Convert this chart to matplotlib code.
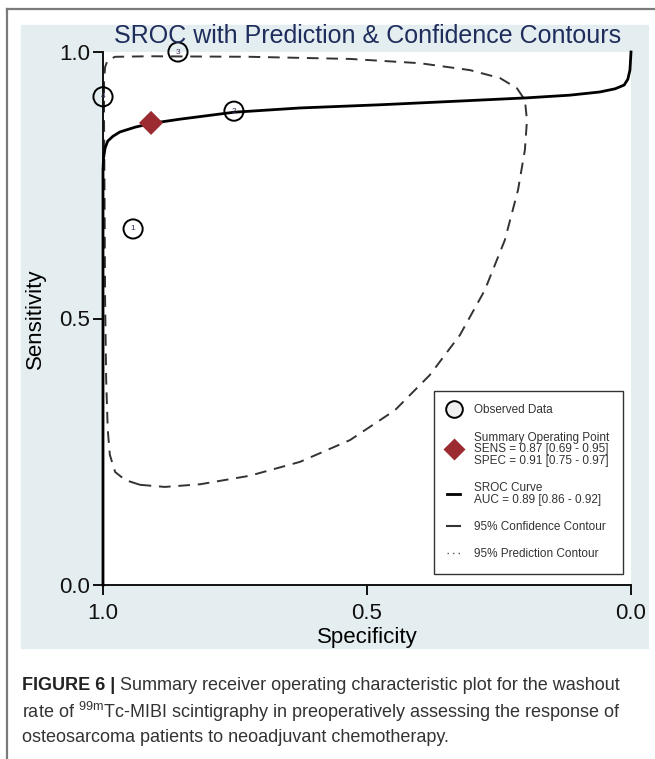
import matplotlib
matplotlib.use("Agg")
import matplotlib.pyplot as plt
from matplotlib.lines import Line2D
from matplotlib.patches import Rectangle

plt.rcParams["font.family"] = ["Liberation Sans", "DejaVu Sans"]
plt.rcParams["mathtext.fontset"] = "custom"
plt.rcParams["mathtext.rm"] = "Liberation Sans"

# observed studies
study_ids = ["1", "2", "3", "4"]
obs_spec = [0.943, 0.752, 0.858, 1.0]
obs_sens = [0.668, 0.889, 1.0, 0.916]

# summary operating point
summ_spec = [0.909]
summ_sens = [0.867]

# SROC curve
sroc_spec = [1.0, 1.0, 0.999, 0.996, 0.991, 0.981, 0.968, 0.939, 0.909, 0.854,
             0.752, 0.627, 0.475, 0.324, 0.197, 0.116, 0.059, 0.030, 0.013,
             0.006, 0.002, 0.0]
sroc_sens = [0.0, 0.779, 0.801, 0.820, 0.833, 0.842, 0.850, 0.859, 0.866, 0.874,
             0.887, 0.895, 0.901, 0.908, 0.914, 0.919, 0.925, 0.931, 0.938,
             0.949, 0.966, 1.0]

# 95% confidence contour
conf_spec = [0.930, 0.958, 0.977, 0.987, 0.991, 0.994, 0.996, 0.997, 0.998,
             0.998, 0.996, 0.991, 0.977, 0.911, 0.722, 0.532, 0.400, 0.305,
             0.248, 0.216, 0.201, 0.197, 0.201, 0.214, 0.239, 0.277, 0.324,
             0.381, 0.447, 0.532, 0.627, 0.722, 0.816, 0.883, 0.930]
conf_sens = [0.188, 0.197, 0.212, 0.244, 0.291, 0.385, 0.535, 0.722, 0.872,
             0.947, 0.972, 0.985, 0.991, 0.992, 0.991, 0.987, 0.979, 0.966,
             0.951, 0.932, 0.910, 0.872, 0.816, 0.741, 0.647, 0.553, 0.469,
             0.394, 0.328, 0.272, 0.231, 0.205, 0.189, 0.184, 0.188]

ticks = [1.0, 0.5, 0.0]
tick_labels = ["1.0", "0.5", "0.0"]

legend_labels = [
    "Observed Data",
    "Summary Operating Point\nSENS = 0.87 [0.69 - 0.95]\nSPEC = 0.91 [0.75 - 0.97]",
    "SROC Curve\nAUC = 0.89 [0.86 - 0.92]",
    "95% Confidence Contour",
    "95% Prediction Contour",
]

W, H = 655, 759
fig = plt.figure(figsize=(W / 100, H / 100), dpi=100)
fig.patch.set_facecolor("white")

# page frame and grey panel behind the graph
fig.add_artist(Line2D([7 / W, 7 / W], [0, 1 - 9 / H], transform=fig.transFigure,
                      color="#7a7a7a", lw=1.6))
fig.add_artist(Line2D([7 / W, 1], [1 - 9 / H, 1 - 9 / H], transform=fig.transFigure,
                      color="#7a7a7a", lw=1.6))
fig.add_artist(Rectangle((21 / W, 1 - 648 / H), 627 / W, 623 / H,
                         transform=fig.transFigure, color="#e4edf0", zorder=0))

ax = fig.add_axes([103 / W, 1 - 585 / H, 528 / W, 533 / H])
ax.set_facecolor("white")
ax.set_xlim(1, 0)
ax.set_ylim(0, 1)
for s in ["top", "right"]:
    ax.spines[s].set_visible(False)
for s in ["left", "bottom"]:
    ax.spines[s].set_linewidth(1.4)
    ax.spines[s].set_color("#111111")

ax.plot(conf_spec, conf_sens, color="#333333", lw=1.4, ls=(0, (6, 4)),
        clip_on=False, zorder=2)
ax.plot(sroc_spec, sroc_sens, color="black", lw=2.0, clip_on=False, zorder=3)
ax.scatter(obs_spec, obs_sens, s=190, facecolors="none", edgecolors="black",
           linewidths=1.4, clip_on=False, zorder=4)
for sid, x, y in zip(study_ids, obs_spec, obs_sens):
    ax.text(x, y, sid, ha="center", va="center", fontsize=6, color="#3b2b5b",
            zorder=5)
ax.scatter(summ_spec, summ_sens, marker="D", s=150, color="#9b2b30",
           edgecolors="none", clip_on=False, zorder=5)

ax.set_xticks(ticks, labels=tick_labels)
ax.set_yticks(ticks, labels=tick_labels)
ax.tick_params(axis="both", length=7, width=1.4, direction="out",
               labelsize=16, colors="#111111")
ax.tick_params(axis="x", pad=6)
ax.tick_params(axis="y", pad=2)
ax.set_xlabel("Specificity", fontsize=16, labelpad=2)
ax.set_ylabel("Sensitivity", fontsize=16, labelpad=10)

handles = [
    Line2D([], [], ls="none", marker="o", ms=12, mfc="#efefef", mec="black", mew=1.4),
    Line2D([], [], ls="none", marker="D", ms=11, mfc="#9b2b30", mec="none"),
    Line2D([], [], color="black", lw=2.0),
    Line2D([], [], color="#333333", lw=1.5),
    Line2D([], [], color="#555555", lw=1.0, ls=(0, (1, 3))),
]
leg = ax.legend(handles, legend_labels, loc="lower right",
                bbox_to_anchor=(0.985, 0.021), fontsize=8.5, frameon=True,
                fancybox=False, edgecolor="black", handlelength=1.1,
                handletextpad=1.2, labelspacing=1.3, borderpad=1.15,
                borderaxespad=0)
leg.get_frame().set_linewidth(1.0)
for t in leg.get_texts():
    t.set_color("#333333")
    t.set_linespacing(0.95)

fig.text(368 / W, 1 - 36 / H, "SROC with Prediction & Confidence Contours",
         ha="center", va="center", fontsize=18, color="#1f2d5c")

# caption
cap_size = 13
fig.canvas.draw()
r = fig.canvas.get_renderer()
t1 = fig.text(22 / W, 1 - 686 / H, "FIGURE 6 |", fontsize=cap_size,
              fontweight="bold", va="center", color="#222222")
bb = t1.get_window_extent(r)
fig.text((bb.x1 + 5) / W, 1 - 686 / H,
         "Summary receiver operating characteristic plot for the washout",
         fontsize=cap_size, va="center", color="#333333")
fig.text(22 / W, 1 - 712 / H,
         r"rate of $^{\mathrm{99m}}$Tc-MIBI scintigraphy in preoperatively assessing the response of",
         fontsize=cap_size, va="center", color="#333333")
fig.text(22 / W, 1 - 738 / H,
         "osteosarcoma patients to neoadjuvant chemotherapy.",
         fontsize=cap_size, va="center", color="#333333")

fig.savefig("out.png", dpi=100)
